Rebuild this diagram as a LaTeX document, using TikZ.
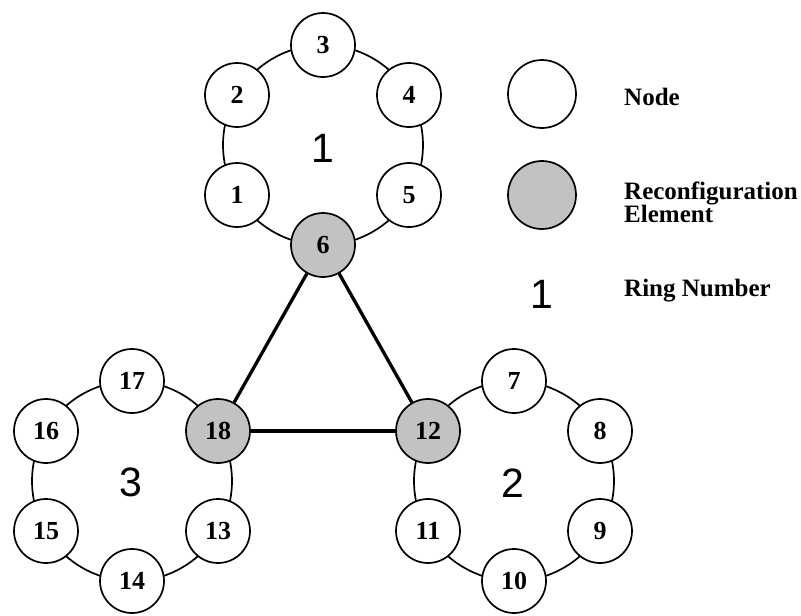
\documentclass[tikz,border=0pt]{standalone}
\usepackage{fontspec}
\setmainfont{Liberation Serif}
\newfontfamily\ringfont{Liberation Sans}
\begin{document}
\begin{tikzpicture}[x=1pt,y=-1pt,
  nd/.style={circle,draw=black,line width=1.7pt,fill=white,minimum size=64pt,inner sep=0pt,font=\fontsize{26}{26}\selectfont\bfseries},
  re/.style={nd,fill=gray!48},
  ringline/.style={line width=1.7pt},
  link/.style={line width=3.3pt},
  ringlbl/.style={font=\fontsize{41}{41}\selectfont\ringfont,inner sep=0pt},
  legtxt/.style={anchor=west,align=left,inner sep=0pt,font=\fontsize{25}{23}\selectfont\bfseries}]
\useasboundingbox (0,0) rectangle (801,616);
% ring circles
\draw[ringline] (323,145) circle (100);
\draw[ringline] (514,481) circle (100);
\draw[ringline] (132,481) circle (100);
% ring 1
\node[nd] (n3) at (323,45) {3};
\node[nd] (n2) at (237,95) {2};
\node[nd] (n4) at (409,95) {4};
\node[nd] (n1) at (237,195) {1};
\node[nd] (n5) at (409,195) {5};
\node[re] (n6) at (323,245) {6};
\node[ringlbl] (r1) at (323,148) {1};
% ring 3
\node[nd] (n17) at (132,381) {17};
\node[nd] (n16) at (46,431) {16};
\node[re] (n18) at (218,431) {18};
\node[nd] (n15) at (46,531) {15};
\node[nd] (n13) at (218,531) {13};
\node[nd] (n14) at (132,581) {14};
\node[ringlbl] (r3) at (131,482) {3};
% ring 2
\node[nd] (n7) at (514,381) {7};
\node[re] (n12) at (428,431) {12};
\node[nd] (n8) at (600,431) {8};
\node[nd] (n11) at (428,531) {11};
\node[nd] (n9) at (600,531) {9};
\node[nd] (n10) at (514,581) {10};
\node[ringlbl] (r2) at (513,483) {2};
% triangle links
\draw[link] (n6) -- (n18);
\draw[link] (n6) -- (n12);
\draw[link] (n18) -- (n12);
% legend
\node[nd,minimum size=68pt] (lnode) at (542,94) {};
\node[re,minimum size=68pt] (lre) at (542,195) {};
\node[ringlbl] (lring) at (542,294) {1};
\node[legtxt] (tnode) at (624,97) {Node};
\node[legtxt] (tre) at (624,202) {Reconfiguration\\Element};
\node[legtxt] (tring) at (624,291) {Ring Number};
\end{tikzpicture}
\end{document}
